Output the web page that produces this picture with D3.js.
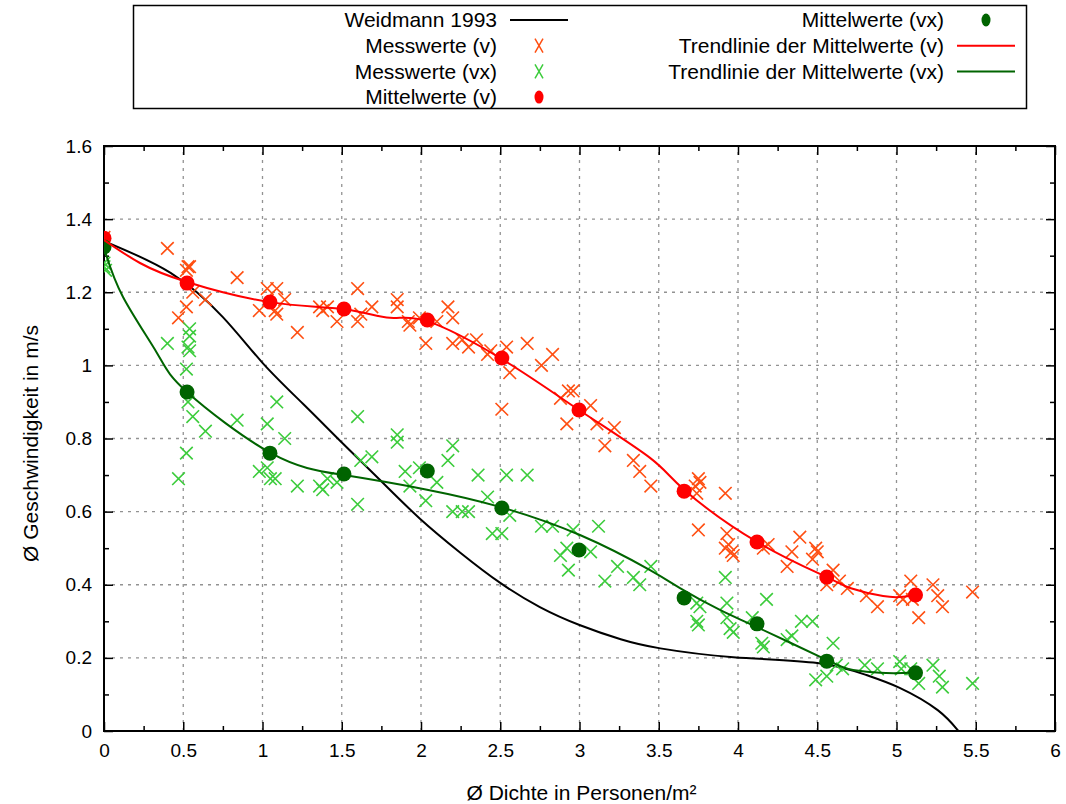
<!DOCTYPE html>
<html>
<head>
<meta charset="utf-8">
<script src="https://cdn.jsdelivr.net/npm/d3@7"></script>
<style>
  body { margin: 0; background: #fff; }
  svg { font-family: "Liberation Sans", Arial, sans-serif; }
</style>
</head>
<body>
<div id="chart-area"></div>
<script>
const WIDTH = 1066;
const HEIGHT = 804;
const margin = {left: 104, right: 11, top: 146, bottom: 73};

// tick values and labels
const xTicks = [0, 0.5, 1, 1.5, 2, 2.5, 3, 3.5, 4, 4.5, 5, 5.5, 6];
const xTickLabels = ["0", "0.5", "1", "1.5", "2", "2.5", "3", "3.5", "4", "4.5", "5", "5.5", "6"];
const yTicks = [0, 0.2, 0.4, 0.6, 0.8, 1, 1.2, 1.4, 1.6];
const yTickLabels = ["0", "0.2", "0.4", "0.6", "0.8", "1", "1.2", "1.4", "1.6"];

// Weidmann 1993
const weidmann = [
  [0, 1.34], [0.42, 1.253], [0.75, 1.132], [1.0, 1.007], [1.26, 0.893], [1.51, 0.785],
  [1.74, 0.687], [1.99, 0.582], [2.25, 0.487], [2.5, 0.405], [2.75, 0.339], [3.0, 0.29],
  [3.26, 0.251], [3.51, 0.226], [3.97, 0.202], [4.5, 0.186], [4.81, 0.153], [5.02, 0.118],
  [5.26, 0.057], [5.39, 0], [5.45, -0.03]
];

// Messwerte (v)
const messV = [
  [0, 1.35], [0.40, 1.32], [0.53, 1.27], [0.54, 1.27], [0.52, 1.26], [0.56, 1.20], [0.52, 1.16],
  [0.64, 1.18], [0.47, 1.13], [0.84, 1.24], [1.03, 1.21], [1.09, 1.21], [1.14, 1.18], [0.98, 1.15],
  [1.08, 1.15], [1.09, 1.14], [1.22, 1.09], [1.36, 1.16], [1.38, 1.15], [1.41, 1.16], [1.47, 1.12],
  [1.60, 1.21], [1.60, 1.12], [1.62, 1.14], [1.69, 1.16], [1.85, 1.18], [1.85, 1.16], [1.92, 1.12],
  [1.93, 1.11], [1.99, 1.13], [2.03, 1.06], [2.10, 1.12], [2.17, 1.16], [2.20, 1.13], [2.20, 1.06],
  [2.26, 1.07], [2.30, 1.05], [2.35, 1.07], [2.44, 1.04], [2.42, 1.03], [2.54, 1.05], [2.56, 0.98],
  [2.51, 0.88], [2.67, 1.06], [2.76, 1.00], [2.83, 1.03], [2.88, 0.91], [2.93, 0.93], [2.96, 0.93],
  [3.07, 0.89], [2.92, 0.84], [3.11, 0.84], [3.22, 0.83], [3.16, 0.78], [3.34, 0.74], [3.38, 0.71],
  [3.45, 0.67], [3.75, 0.69], [3.76, 0.68], [3.73, 0.67], [3.74, 0.65], [3.92, 0.65], [3.75, 0.55],
  [3.93, 0.54], [3.94, 0.51], [3.92, 0.50], [3.96, 0.49], [3.97, 0.48], [4.19, 0.51], [4.16, 0.50],
  [4.39, 0.53], [4.34, 0.49], [4.31, 0.45], [4.49, 0.50], [4.50, 0.49], [4.47, 0.47], [4.60, 0.44],
  [4.64, 0.41], [4.69, 0.39], [4.56, 0.40], [4.81, 0.37], [4.88, 0.34], [5.02, 0.37], [5.04, 0.36],
  [5.09, 0.41], [5.10, 0.36], [5.14, 0.31], [5.23, 0.40], [5.26, 0.37], [5.29, 0.34], [5.48, 0.38]
];

// Messwerte (vx)
const messVx = [
  [0, 1.28], [0, 1.27], [0.01, 1.26], [0.40, 1.06], [0.54, 1.10], [0.54, 1.08], [0.53, 1.05],
  [0.54, 1.04], [0.52, 0.99], [0.53, 0.90], [0.56, 0.86], [0.64, 0.82], [0.52, 0.76], [0.47, 0.69],
  [0.84, 0.85], [1.03, 0.84], [1.09, 0.90], [1.14, 0.80], [0.98, 0.71], [1.03, 0.72], [1.05, 0.69],
  [1.08, 0.69], [1.22, 0.67], [1.36, 0.67], [1.38, 0.66], [1.41, 0.69], [1.47, 0.68], [1.60, 0.86],
  [1.60, 0.62], [1.62, 0.74], [1.69, 0.75], [1.85, 0.81], [1.85, 0.79], [1.90, 0.71], [1.93, 0.67],
  [1.99, 0.72], [2.03, 0.63], [2.10, 0.68], [2.20, 0.78], [2.17, 0.74], [2.20, 0.60], [2.26, 0.60],
  [2.30, 0.60], [2.36, 0.70], [2.42, 0.64], [2.54, 0.70], [2.67, 0.70], [2.45, 0.54], [2.51, 0.54],
  [2.56, 0.59], [2.76, 0.56], [2.83, 0.56], [2.96, 0.55], [2.88, 0.48], [2.92, 0.50], [2.93, 0.44],
  [3.07, 0.49], [3.12, 0.56], [3.16, 0.41], [3.24, 0.45], [3.34, 0.42], [3.38, 0.40], [3.45, 0.45],
  [3.74, 0.35], [3.76, 0.34], [3.74, 0.30], [3.75, 0.29], [3.92, 0.42], [3.93, 0.35], [3.93, 0.31],
  [3.95, 0.28], [3.97, 0.27], [4.09, 0.31], [4.18, 0.36], [4.15, 0.24], [4.16, 0.23], [4.31, 0.25],
  [4.34, 0.26], [4.40, 0.30], [4.47, 0.30], [4.60, 0.24], [4.49, 0.14], [4.56, 0.15], [4.62, 0.18],
  [4.66, 0.17], [4.80, 0.18], [4.88, 0.17], [5.02, 0.19], [5.03, 0.17], [5.09, 0.17], [5.14, 0.13],
  [5.23, 0.18], [5.27, 0.15], [5.29, 0.12], [5.48, 0.13]
];

// Mittelwerte
const densities = [0, 0.524, 1.047, 1.514, 2.04, 2.51, 2.997, 3.66, 4.12, 4.56, 5.12];
const meanV = [1.348, 1.225, 1.173, 1.154, 1.124, 1.02, 0.878, 0.656, 0.517, 0.421, 0.372];
const meanVx = [1.324, 0.927, 0.760, 0.703, 0.711, 0.61, 0.495, 0.364, 0.293, 0.191, 0.159];

// Trendlinien
const trendV = [
  [0, 1.343], [0.227, 1.28], [0.524, 1.228], [1.047, 1.173], [1.508, 1.154], [1.804, 1.13],
  [2.038, 1.121], [2.511, 1.017], [2.997, 0.878], [3.445, 0.747], [3.66, 0.66], [4.12, 0.517],
  [4.56, 0.421], [4.707, 0.391], [4.915, 0.369], [5.041, 0.367], [5.129, 0.372]
];
const trendVx = [
  [0, 1.321], [0.12, 1.187], [0.334, 1.034], [0.524, 0.927], [1.054, 0.76], [1.514, 0.70],
  [2.038, 0.66], [2.498, 0.613], [3.003, 0.536], [3.445, 0.44], [3.634, 0.391], [3.886, 0.331],
  [4.12, 0.284], [4.562, 0.194], [4.726, 0.167], [4.896, 0.159], [5.104, 0.159]
];

const ORANGE = "#ff4f12";
const LIME = "#3ccc3c";
const RED = "#ff0000";
const DKGREEN = "#006400";

const x = d3.scaleLinear().domain([0, 6]).range([margin.left, WIDTH - margin.right]);
const y = d3.scaleLinear().domain([0, 1.6]).range([HEIGHT - margin.bottom, margin.top]);

const svg = d3.select("#chart-area").append("svg")
    .attr("width", WIDTH)
    .attr("height", HEIGHT)
    .attr("viewBox", [0, 0, WIDTH, HEIGHT]);

svg.append("defs").append("clipPath").attr("id", "plot-clip")
  .append("rect")
    .attr("x", margin.left).attr("y", margin.top)
    .attr("width", x(6) - x(0)).attr("height", y(0) - y(1.6));

// grid
const grid = svg.append("g")
    .attr("stroke", "#929292")
    .attr("stroke-width", 1.3)
    .attr("stroke-dasharray", "3,5");
grid.selectAll(".gx")
  .data(xTicks.slice(1, -1))
  .join("line")
    .attr("x1", d => x(d)).attr("x2", d => x(d))
    .attr("y1", y(0)).attr("y2", y(1.6));
grid.selectAll(".gy")
  .data(yTicks.slice(1, -1))
  .join("line")
    .attr("x1", x(0)).attr("x2", x(6))
    .attr("y1", d => y(d)).attr("y2", d => y(d));

// axes
const xMinor = d3.range(0.25, 6, 0.5);
const yMinor = d3.range(0.1, 1.6, 0.2);

function styleAxis(g) {
  g.select(".domain").remove();
  g.selectAll(".tick line").attr("stroke", "#000").attr("stroke-width", 1.5);
  g.selectAll("text").attr("fill", "#000").attr("font-size", 19);
}

svg.append("g")
    .attr("transform", `translate(0,${y(0)})`)
    .call(d3.axisBottom(x).tickValues(xTicks).tickFormat((d, i) => xTickLabels[i])
      .tickSize(-9).tickPadding(13))
    .call(styleAxis);
svg.append("g")
    .attr("transform", `translate(0,${y(0)})`)
    .call(d3.axisBottom(x).tickValues(xMinor).tickFormat("").tickSize(-5))
    .call(styleAxis);
svg.append("g")
    .attr("transform", `translate(0,${y(1.6)})`)
    .call(d3.axisTop(x).tickValues(xTicks).tickFormat("").tickSize(-9))
    .call(styleAxis);
svg.append("g")
    .attr("transform", `translate(0,${y(1.6)})`)
    .call(d3.axisTop(x).tickValues(xMinor).tickFormat("").tickSize(-5))
    .call(styleAxis);

svg.append("g")
    .attr("transform", `translate(${x(0)},0)`)
    .call(d3.axisLeft(y).tickValues(yTicks).tickFormat((d, i) => yTickLabels[i])
      .tickSize(-9).tickPadding(12))
    .call(styleAxis);
svg.append("g")
    .attr("transform", `translate(${x(0)},0)`)
    .call(d3.axisLeft(y).tickValues(yMinor).tickFormat("").tickSize(-5))
    .call(styleAxis);
svg.append("g")
    .attr("transform", `translate(${x(6)},0)`)
    .call(d3.axisRight(y).tickValues(yTicks).tickFormat("").tickSize(-9))
    .call(styleAxis);
svg.append("g")
    .attr("transform", `translate(${x(6)},0)`)
    .call(d3.axisRight(y).tickValues(yMinor).tickFormat("").tickSize(-5))
    .call(styleAxis);

// frame
svg.append("rect")
    .attr("x", x(0)).attr("y", y(1.6))
    .attr("width", x(6) - x(0)).attr("height", y(0) - y(1.6))
    .attr("fill", "none").attr("stroke", "#000").attr("stroke-width", 2);

// axis titles
svg.append("text")
    .attr("x", (x(0) + x(6)) / 2 + 2).attr("y", 800)
    .attr("text-anchor", "middle").attr("font-size", 21)
    .text("Ø Dichte in Personen/m²");
svg.append("text")
    .attr("transform", `translate(38,${(y(0) + y(1.6)) / 2 + 5}) rotate(-90)`)
    .attr("text-anchor", "middle").attr("font-size", 21)
    .text("Ø Geschwindigkeit in m/s");

const plot = svg.append("g").attr("clip-path", "url(#plot-clip)");

const line = d3.line()
    .x(d => x(d[0]))
    .y(d => y(d[1]))
    .curve(d3.curveNatural);

const crossPath = s => `M${-s},${-s}L${s},${s}M${-s},${s}L${s},${-s}`;

plot.append("path")
    .attr("d", line(weidmann))
    .attr("fill", "none").attr("stroke", "#000").attr("stroke-width", 2);

plot.append("g").selectAll("path")
  .data(messV)
  .join("path")
    .attr("transform", d => `translate(${x(d[0])},${y(d[1])})`)
    .attr("d", crossPath(6.3))
    .attr("stroke", ORANGE).attr("stroke-width", 1.6).attr("fill", "none");

plot.append("g").selectAll("path")
  .data(messVx)
  .join("path")
    .attr("transform", d => `translate(${x(d[0])},${y(d[1])})`)
    .attr("d", crossPath(6.3))
    .attr("stroke", LIME).attr("stroke-width", 1.6).attr("fill", "none");

plot.append("g").selectAll("circle")
  .data(densities)
  .join("circle")
    .attr("cx", d => x(d))
    .attr("cy", (d, i) => y(meanV[i]))
    .attr("r", 7.5)
    .attr("fill", RED);

plot.append("g").selectAll("circle")
  .data(densities)
  .join("circle")
    .attr("cx", d => x(d))
    .attr("cy", (d, i) => y(meanVx[i]))
    .attr("r", 7.5)
    .attr("fill", DKGREEN);

plot.append("path")
    .attr("d", line(trendV))
    .attr("fill", "none").attr("stroke", RED).attr("stroke-width", 2);
plot.append("path")
    .attr("d", line(trendVx))
    .attr("fill", "none").attr("stroke", DKGREEN).attr("stroke-width", 2);

// legend
const legendItems = [
  {label: "Weidmann 1993", type: "line", color: "#000"},
  {label: "Messwerte (v)", type: "cross", color: ORANGE},
  {label: "Messwerte (vx)", type: "cross", color: LIME},
  {label: "Mittelwerte (v)", type: "dot", color: RED},
  {label: "Mittelwerte (vx)", type: "dot", color: DKGREEN},
  {label: "Trendlinie der Mittelwerte (v)", type: "line", color: RED},
  {label: "Trendlinie der Mittelwerte (vx)", type: "line", color: DKGREEN}
];

svg.append("rect")
    .attr("x", 133.5).attr("y", 5.5).attr("width", 893).attr("height", 103)
    .attr("fill", "#fff").attr("stroke", "#000").attr("stroke-width", 1.5);

const colText = [497, 944];
const colSym = [539, 986];
const legend = svg.append("g").selectAll("g")
  .data(legendItems)
  .join("g")
    .attr("transform", (d, i) => {
      const row = i < 4 ? i : i - 4;
      return `translate(0,${20 + row * 25.7})`;
    });

legend.append("text")
    .attr("x", (d, i) => colText[i < 4 ? 0 : 1])
    .attr("dy", "0.35em")
    .attr("text-anchor", "end")
    .attr("font-size", 21)
    .text(d => d.label);

legend.each(function (d, i) {
  const g = d3.select(this);
  const cx = colSym[i < 4 ? 0 : 1];
  if (d.type === "line") {
    g.append("line")
        .attr("x1", cx - 29).attr("x2", cx + 29)
        .attr("stroke", d.color).attr("stroke-width", 2);
  } else if (d.type === "cross") {
    g.append("path")
        .attr("d", `M${cx - 4},-7L${cx + 4},7M${cx - 4},7L${cx + 4},-7`)
        .attr("stroke", d.color).attr("stroke-width", 1.5).attr("fill", "none");
  } else {
    g.append("ellipse")
        .attr("cx", cx).attr("rx", 4.5).attr("ry", 6.5)
        .attr("fill", d.color);
  }
});
</script>
</body>
</html>
